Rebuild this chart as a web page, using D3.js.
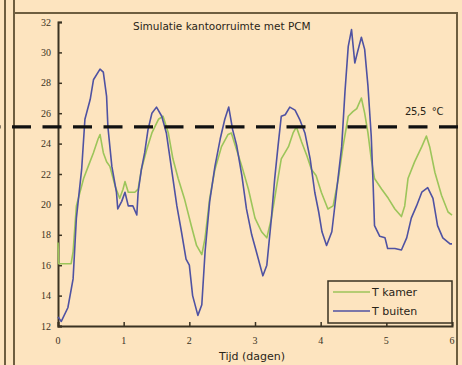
<!DOCTYPE html>
<html>
<head>
<meta charset="utf-8">
<script src="https://cdn.jsdelivr.net/npm/d3@7"></script>
<style>
  body { margin: 0; background: #fde4bf; }
  svg { display: block; }
</style>
</head>
<body>
<script>
// T buiten (outside temperature)
const dayBuiten = [0, 0.05, 0.15, 0.23, 0.28, 0.36, 0.41, 0.49, 0.54, 0.64, 0.69, 0.74, 0.76, 0.82, 0.89, 0.91, 0.97,
    1.02, 1.07, 1.14, 1.2, 1.22, 1.27, 1.32, 1.37, 1.43, 1.5, 1.58, 1.65, 1.73, 1.81, 1.88, 1.95,
    2.0, 2.05, 2.13, 2.19, 2.24, 2.31, 2.39, 2.47, 2.54, 2.6, 2.66, 2.72, 2.8, 2.87, 2.95,
    3.02, 3.12, 3.18, 3.25, 3.3, 3.35, 3.4, 3.46, 3.53, 3.61, 3.68, 3.76, 3.84, 3.91, 3.97,
    4.02, 4.09, 4.17, 4.24, 4.32, 4.37, 4.42, 4.47, 4.52, 4.56, 4.62, 4.67, 4.72, 4.77, 4.8, 4.82, 4.9, 4.98,
    5.02, 5.13, 5.23, 5.31, 5.38, 5.46, 5.54, 5.63, 5.71, 5.78, 5.86, 5.97, 6.0];
const tBuiten = [12.6, 12.3, 13.2, 15.1, 19.1, 22.3, 25.6, 26.9, 28.2, 28.9, 28.7, 27.1, 25.1, 22.5, 20.8, 19.7, 20.2,
    20.8, 19.9, 19.9, 19.3, 20.8, 22.3, 23.4, 24.9, 26.0, 26.4, 25.8, 24.7, 22.3, 19.9, 18.2, 16.4,
    16.0, 14.0, 12.7, 13.4, 16.9, 20.2, 22.5, 24.3, 25.6, 26.4, 24.9, 23.9, 21.9, 19.7, 18.0,
    16.9, 15.3, 16.0, 19.1, 21.7, 23.8, 25.8, 25.9, 26.4, 26.2, 25.6, 24.7, 23.0, 20.8, 19.5,
    18.2, 17.3, 18.2, 20.8, 23.8, 27.4, 30.4, 31.5, 29.3, 30.0, 31.0, 30.2, 27.8, 24.5, 21.2, 18.6, 17.9, 17.8,
    17.1, 17.1, 17.0, 17.8, 19.1, 19.9, 20.8, 21.1, 20.4, 18.6, 17.8, 17.4, 17.4];

// T kamer (room temperature)
const dayKamer = [0, 0.01, 0.2, 0.23, 0.28, 0.39, 0.46, 0.54, 0.61, 0.64, 0.69, 0.74, 0.79, 0.87, 0.94, 0.99,
    1.02, 1.07, 1.17, 1.22, 1.27, 1.35, 1.43, 1.53, 1.6, 1.68, 1.75, 1.83, 1.93,
    2.03, 2.11, 2.19, 2.24, 2.31, 2.39, 2.49, 2.59, 2.64, 2.72, 2.8, 2.9, 3.0,
    3.1, 3.18, 3.25, 3.33, 3.4, 3.51, 3.58, 3.63, 3.71, 3.79, 3.86, 3.93,
    4.01, 4.11, 4.19, 4.27, 4.34, 4.42, 4.49, 4.55, 4.62, 4.67, 4.72, 4.77, 4.82, 4.93,
    5.03, 5.13, 5.23, 5.28, 5.33, 5.43, 5.54, 5.61, 5.66, 5.74, 5.84, 5.94, 6.0];
const tKamer = [17.5, 16.1, 16.1, 16.9, 19.9, 21.7, 22.5, 23.4, 24.3, 24.6, 23.4, 22.8, 22.5, 21.2, 20.4, 21.0,
    21.5, 20.8, 20.8, 21.0, 22.3, 23.6, 24.7, 25.6, 25.8, 24.7, 23.0, 21.7, 20.3,
    18.6, 17.3, 16.7, 17.8, 20.4, 22.3, 23.8, 24.6, 24.7, 23.6, 22.5, 21.0, 19.1,
    18.2, 17.8, 19.1, 21.2, 23.0, 23.8, 24.7, 25.1, 24.1, 23.2, 22.3, 21.9,
    20.8, 19.7, 19.9, 21.7, 23.8, 25.8, 26.1, 26.3, 27.0, 26.0, 24.7, 23.0, 21.7, 21.0,
    20.4, 19.7, 19.2, 19.9, 21.7, 22.8, 23.8, 24.5, 23.8, 22.1, 20.6, 19.5, 19.3];

const yTicks = [12, 14, 16, 18, 20, 22, 24, 26, 28, 30, 32];
const xTicks = [0, 1, 2, 3, 4, 5, 6];
const grens = 25.1;          // where the dashed line sits in the picture
const grensLabel = "25,5  °C";
const series = [
    {name: "T kamer", days: dayKamer, temps: tKamer, color: "#9cc55a"},
    {name: "T buiten", days: dayBuiten, temps: tBuiten, color: "#4f52a2"}
];

const width = 462
const height = 365
const axisColor = "#3a3222"
const textColor = "#2a2418"
const sans = "DejaVu Sans"

const svg = d3.select("body")
    .append("svg")
    .attr("width", width)
    .attr("height", height)

svg.append("rect")
    .attr("width", width)
    .attr("height", height)
    .attr("fill", "#fde4bf")

// frame of the figure (scanned page)
const frame = svg.append("g").attr("stroke", "#6e5e40").attr("stroke-width", 2).attr("fill", "none");
frame.append("line").attr("x1", 5).attr("x2", 5).attr("y1", 0).attr("y2", height);
frame.append("line").attr("x1", 14).attr("x2", 14).attr("y1", 0).attr("y2", height);
frame.append("path").attr("d", `M14,13H457V${height}`);

const x = d3.scaleLinear().domain([0, 6]).range([58, 452]);
const y = d3.scaleLinear().domain([12, 32]).range([326, 22]);

// axes
const xAxis = svg.append("g")
    .attr("transform", `translate(0,${y(12)})`)
    .call(d3.axisTop(x).tickValues(xTicks).tickSize(4).tickFormat(""));
const yAxis = svg.append("g")
    .attr("transform", `translate(${x(0)},0)`)
    .call(d3.axisRight(y).tickValues(yTicks).tickSize(4).tickFormat(""));
[xAxis, yAxis].forEach(a => {
    a.selectAll("path").attr("stroke", axisColor).attr("stroke-width", 2);
    a.selectAll("line").attr("stroke", axisColor).attr("stroke-width", 1.5);
});

svg.append("g").selectAll("text")
    .data(yTicks)
    .join("text")
        .attr("x", 51)
        .attr("y", d => y(d) + 3.5)
        .attr("text-anchor", "end")
        .attr("font-family", "Liberation Serif")
        .attr("font-size", 10)
        .attr("fill", axisColor)
        .text(d => d);

svg.append("g").selectAll("text")
    .data(xTicks)
    .join("text")
        .attr("x", d => x(d))
        .attr("y", 344)
        .attr("text-anchor", "middle")
        .attr("font-family", "Liberation Serif")
        .attr("font-size", 10)
        .attr("fill", axisColor)
        .text(d => d);

svg.append("text")
    .attr("x", 252)
    .attr("y", 360)
    .attr("text-anchor", "middle")
    .attr("font-family", sans)
    .attr("font-size", 11)
    .attr("fill", textColor)
    .text("Tijd (dagen)");

svg.append("text")
    .attr("x", 133)
    .attr("y", 30)
    .attr("font-family", sans)
    .attr("font-size", 10.5)
    .attr("fill", textColor)
    .text("Simulatie kantoorruimte met PCM");

// curves
const line = d3.line()
    .x(d => x(d[0]))
    .y(d => y(d[1]));

svg.append("g").selectAll("path")
    .data(series)
    .join("path")
        .attr("fill", "none")
        .attr("stroke", d => d.color)
        .attr("stroke-width", 1.6)
        .attr("stroke-linejoin", "round")
        .attr("d", d => line(d3.zip(d.days, d.temps)));

// comfort limit
svg.append("line")
    .attr("x1", 0)
    .attr("x2", width)
    .attr("y1", y(grens))
    .attr("y2", y(grens))
    .attr("stroke", "#111")
    .attr("stroke-width", 3.2)
    .attr("stroke-dasharray", "19,11.5")
    .attr("stroke-dashoffset", 18.5);

svg.append("text")
    .attr("x", 405)
    .attr("y", 115)
    .attr("font-family", sans)
    .attr("font-size", 10)
    .attr("letter-spacing", -0.3)
    .attr("fill", textColor)
    .style("white-space", "pre")
    .text(grensLabel);

// legend
const legend = svg.append("g");
legend.append("rect")
    .attr("x", 328)
    .attr("y", 281)
    .attr("width", 124)
    .attr("height", 42)
    .attr("fill", "#fde4bf")
    .attr("stroke", axisColor)
    .attr("stroke-width", 1.5);

const item = legend.selectAll("g")
    .data(series)
    .join("g")
        .attr("transform", (d, i) => `translate(0,${292 + i * 19})`);
item.append("line")
    .attr("x1", 333)
    .attr("x2", 370)
    .attr("stroke", d => d.color)
    .attr("stroke-width", 1.6);
item.append("text")
    .attr("x", 372)
    .attr("y", 4)
    .attr("font-family", sans)
    .attr("font-size", 11)
    .attr("fill", textColor)
    .text(d => d.name);
</script>
</body>
</html>
